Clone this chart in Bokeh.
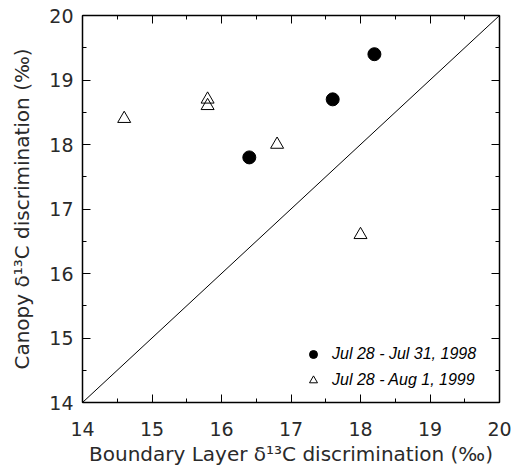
from bokeh.plotting import figure
from bokeh.models import LinearAxis, Range1d, SingleIntervalTicker, Legend, LegendItem
from bokeh.embed import file_html
from bokeh.resources import INLINE

# ---- data ----
x_1998 = [16.4, 17.6, 18.2]
y_1998 = [17.8, 18.7, 19.4]
x_1999 = [14.6, 15.8, 15.8, 16.8, 18.0]
y_1999 = [18.4, 18.7, 18.6, 18.0, 16.6]
one_to_one = [14, 20]
axis_limits = [14, 20]
label_1998 = "Jul 28 - Jul 31, 1998"
label_1999 = "Jul 28 - Aug 1, 1999"
x_label = "Boundary Layer δ¹³C discrimination (‰)"
y_label = "Canopy δ¹³C discrimination (‰)"

FONT = "DejaVu Sans"
TXT = "#2a2a2a"

p = figure(width=513, height=468, output_backend="svg", toolbar_location=None,
           x_range=Range1d(*axis_limits), y_range=Range1d(*axis_limits),
           x_axis_location=None, y_axis_location=None,
           min_border_left=82, min_border_right=14, min_border_top=15, min_border_bottom=64)
p.outline_line_color = None
p.background_fill_color = "white"
p.border_fill_color = "white"
p.xgrid.grid_line_color = None
p.ygrid.grid_line_color = None


def make_axis(show_labels):
    ax = LinearAxis(ticker=SingleIntervalTicker(interval=1, num_minor_ticks=2))
    ax.axis_line_color = "black"
    ax.axis_line_width = 1.5
    ax.major_tick_in = 8
    ax.major_tick_out = 0
    ax.minor_tick_in = 4
    ax.minor_tick_out = 0
    ax.major_tick_line_color = "black"
    ax.minor_tick_line_color = "black"
    if show_labels:
        ax.major_label_text_font = FONT
        ax.major_label_text_font_size = "19px"
        ax.major_label_text_color = TXT
        ax.axis_label_text_font = FONT
        ax.axis_label_text_font_size = "20px"
        ax.axis_label_text_font_style = "normal"
        ax.axis_label_text_color = TXT
    else:
        ax.major_label_text_font_size = "0px"
        ax.major_label_standoff = 0
        ax.major_label_text_alpha = 0
    return ax


bottom = make_axis(True)
bottom.axis_label = x_label
bottom.major_label_standoff = 19
bottom.axis_label_standoff = 3
left = make_axis(True)
left.axis_label = y_label
left.major_label_standoff = 9
left.axis_label_standoff = 12
top = make_axis(False)
right = make_axis(False)
p.add_layout(bottom, "below")
p.add_layout(left, "left")
p.add_layout(top, "above")
p.add_layout(right, "right")

p.line(one_to_one, one_to_one, line_color="black", line_width=1)

r98 = p.scatter(x_1998, y_1998, marker="circle", size=13,
                fill_color="black", line_color="black")
r99 = p.scatter(x_1999, y_1999, marker="triangle", size=13,
                fill_color=None, line_color="black", line_width=1)

legend = Legend(items=[LegendItem(label=label_1998, renderers=[r98]),
                       LegendItem(label=label_1999, renderers=[r99])],
                location=(221, 12))
legend.label_text_font = "Liberation Sans"
legend.label_text_font_style = "italic"
legend.label_text_font_size = "16px"
legend.label_text_color = "black"
legend.border_line_color = None
legend.background_fill_alpha = 0
legend.padding = 10
legend.spacing = 6
legend.label_standoff = 9
legend.glyph_height = 20
legend.glyph_width = 20
legend.label_height = 20
p.add_layout(legend)

open("out.html", "w").write(file_html(p, INLINE))
